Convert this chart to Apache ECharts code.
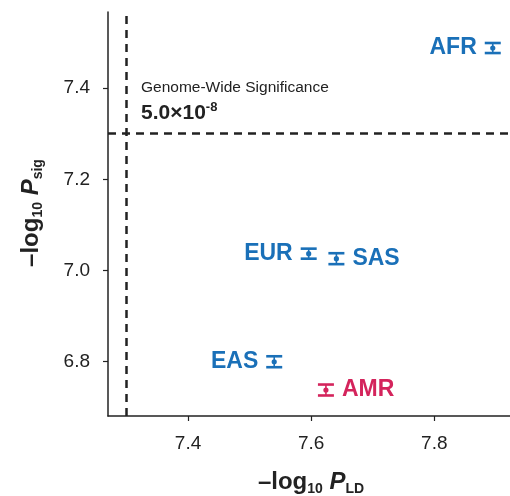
<!DOCTYPE html>
<html>
<head>
<meta charset="utf-8">
<script src="https://cdn.jsdelivr.net/npm/echarts@6/dist/echarts.min.js"></script>
<style>
html,body{margin:0;padding:0;background:#fff;}
#chart{width:510px;height:496px;}
</style>
</head>
<body>
<div id="chart"></div>
<script>
// ---- data ----
var populations = ['AFR', 'EUR', 'SAS', 'EAS', 'AMR'];
var pLD = [7.895, 7.596, 7.641, 7.540, 7.624];
var pSig = [7.488, 7.037, 7.026, 6.800, 6.738];
var pSigErr = [0.011, 0.011, 0.012, 0.012, 0.012];
var xTicks = [7.4, 7.6, 7.8];
var yTicks = [6.8, 7.0, 7.2, 7.4];
var gwsThreshold = 7.301; // -log10(5e-8)

// ---- styling (not data) ----
var BLUE = '#1a70b8';
var RED = '#d4245c';
var popColor = { AFR: BLUE, EUR: BLUE, SAS: BLUE, EAS: BLUE, AMR: RED };
var labelSide = { AFR: 'left', EUR: 'left', SAS: 'right', EAS: 'left', AMR: 'right' };
var FONT = 'Liberation Sans, Arial, Helvetica, sans-serif';
var INK = '#222';

var errData = populations.map(function (p, i) {
  return [pLD[i], pSig[i], pSig[i] - pSigErr[i], pSig[i] + pSigErr[i], i];
});
var labelData = populations.map(function (p, i) {
  return {
    name: p,
    value: [pLD[i], pSig[i]],
    label: { position: labelSide[p], color: popColor[p] }
  };
});

function nameRich(fill) {
  var o = {
    a: { fontSize: 24, fontWeight: 'bold', fontFamily: FONT, lineHeight: 28 },
    p: { fontSize: 24, fontWeight: 'bold', fontStyle: 'italic', fontFamily: FONT, lineHeight: 28 },
    s: { fontSize: 14, fontWeight: 'bold', fontFamily: FONT, lineHeight: 17, verticalAlign: 'bottom' }
  };
  for (var k in o) { if (fill) o[k].fill = INK; else o[k].color = INK; }
  return o;
}

var chart = echarts.init(document.getElementById('chart'), null, { renderer: 'canvas' });

var option = {
  animation: false,
  backgroundColor: '#fff',
  textStyle: { fontFamily: FONT },
  grid: { left: 108, right: 0, top: 12, bottom: 80, containLabel: false, outerBoundsMode: 'none' },
  xAxis: {
    type: 'value',
    min: 7.27, max: 7.923,
    splitLine: { show: false },
    axisLine: { show: true, onZero: false, lineStyle: { color: INK, width: 1.5 } },
    axisTick: { show: true, length: 5, lineStyle: { color: INK, width: 1.2 }, customValues: xTicks },
    axisLabel: { show: true, margin: 18, fontSize: 19, color: INK, fontFamily: FONT,
      customValues: xTicks, formatter: function (v) { return v.toFixed(1); } },
    name: '{a|–log}{s|10}{a| }{p|P}{s|LD}',
    nameLocation: 'middle',
    nameGap: 52,
    nameTextStyle: { rich: nameRich(false), padding: [0, 0, 0, 4] }
  },
  yAxis: {
    type: 'value',
    min: 6.681, max: 7.567,
    splitLine: { show: false },
    axisLine: { show: true, onZero: false, lineStyle: { color: INK, width: 1.5 } },
    axisTick: { show: true, length: 5, lineStyle: { color: INK, width: 1.2 }, customValues: yTicks },
    axisLabel: { show: true, margin: 18, fontSize: 19, color: INK, fontFamily: FONT,
      customValues: yTicks, formatter: function (v) { return v.toFixed(1); } }
  },
  graphic: [
    {
      type: 'text',
      x: 31, y: 213,
      rotation: Math.PI / 2,
      style: {
        text: '{a|–log}{s|10}{a| }{p|P}{s|sig}',
        align: 'center', verticalAlign: 'middle',
        rich: nameRich(true)
      }
    },
    {
      type: 'text', x: 141, y: 88,
      style: { text: 'Genome-Wide Significance', fontSize: 15.5, fill: INK, fontFamily: FONT, verticalAlign: 'middle' }
    },
    {
      type: 'text', x: 141, y: 113,
      style: {
        text: '{b|5.0×10}{e|-8}',
        verticalAlign: 'middle',
        rich: {
          b: { fontSize: 21, fontWeight: 'bold', fill: INK, fontFamily: FONT, lineHeight: 24 },
          e: { fontSize: 13, fontWeight: 'bold', fill: INK, fontFamily: FONT, lineHeight: 14, verticalAlign: 'top' }
        }
      }
    }
  ],
  series: [
    {
      type: 'custom',
      name: 'err',
      coordinateSystem: 'cartesian2d',
      encode: { x: 0, y: [1, 2, 3] },
      data: errData,
      renderItem: function (params, api) {
        var x = api.value(0);
        var c = api.coord([x, api.value(1)]);
        var lo = api.coord([x, api.value(2)]);
        var hi = api.coord([x, api.value(3)]);
        var col = popColor[populations[api.value(4)]];
        var hw = 8;
        return {
          type: 'group',
          children: [
            { type: 'line', shape: { x1: c[0], y1: lo[1], x2: c[0], y2: hi[1] }, style: { stroke: col, lineWidth: 1.6 } },
            { type: 'line', shape: { x1: c[0] - hw, y1: lo[1], x2: c[0] + hw, y2: lo[1] }, style: { stroke: col, lineWidth: 2.6 } },
            { type: 'line', shape: { x1: c[0] - hw, y1: hi[1], x2: c[0] + hw, y2: hi[1] }, style: { stroke: col, lineWidth: 2.6 } },
            { type: 'circle', shape: { cx: c[0], cy: c[1], r: 2.6 }, style: { fill: col } }
          ]
        };
      },
      markLine: {
        silent: true,
        symbol: ['none', 'none'],
        label: { show: false },
        lineStyle: { color: INK, width: 2.5, type: [8, 6] },
        data: [{ xAxis: gwsThreshold }, { yAxis: gwsThreshold }]
      },
      z: 3
    },
    {
      type: 'scatter',
      name: 'labels',
      symbolSize: 0,
      itemStyle: { opacity: 1 },
      data: labelData,
      label: {
        show: true,
        distance: 16,
        fontSize: 23,
        fontWeight: 'bold',
        fontFamily: FONT,
        formatter: '{b}'
      },
      emphasis: { disabled: true },
      z: 4
    }
  ]
};
chart.setOption(option);
</script>
</body>
</html>
